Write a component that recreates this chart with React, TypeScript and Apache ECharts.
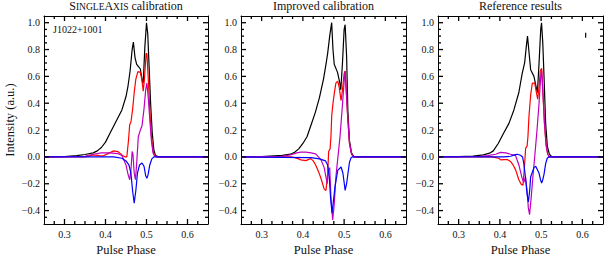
import React, { useEffect, useRef } from 'react';
import * as echarts from 'echarts';

const FONT = 'Liberation Serif';
const TXT = '#111';

// axis extents and tick values
const PHASE_RANGE = [0.25, 0.65];
const INT_RANGE = [-0.5, 1.05];
const PHASE_MAJOR_TICKS = [0.3, 0.4, 0.5, 0.6];
const PHASE_MINOR_TICKS = [0.275, 0.325, 0.35, 0.375, 0.425, 0.45, 0.475, 0.525, 0.55, 0.575, 0.625];
const INT_MAJOR_TICKS = [-0.4, -0.2, 0, 0.2, 0.4, 0.6, 0.8, 1.0];
const INT_MINOR_TICKS = [-0.45, -0.35, -0.3, -0.25, -0.15, -0.1, -0.05, 0.05, 0.1, 0.15, 0.25, 0.3, 0.35, 0.45, 0.5, 0.55, 0.65, 0.7, 0.75, 0.85, 0.9, 0.95];

const TITLES = ['{b|S}{s|INGLE}{b|A}{s|XIS}{b| calibration}', 'Improved calibration', 'Reference results'];

// Panel 1: SingleAxis calibration
const SINGLE_BLACK = [[0.25,0],[0.30,0.002],[0.33,0.01],[0.35,0.018],[0.37,0.03],[0.38,0.045],[0.39,0.07],[0.40,0.11],[0.41,0.17],[0.42,0.23],[0.43,0.29],[0.44,0.35],[0.45,0.45],[0.455,0.53],[0.46,0.64],[0.465,0.80],[0.468,0.855],[0.472,0.74],[0.476,0.69],[0.48,0.675],[0.485,0.655],[0.49,0.56],[0.492,0.55],[0.496,0.82],[0.50,1.0],[0.503,0.92],[0.506,0.70],[0.51,0.40],[0.514,0.18],[0.518,0.05],[0.522,0.01],[0.53,0],[0.65,0]];
const SINGLE_RED = [[0.25,0],[0.35,0],[0.37,0.015],[0.385,0.01],[0.395,0.008],[0.41,0.03],[0.42,0.045],[0.43,0.04],[0.44,0.015],[0.448,0.0],[0.452,0.0],[0.456,0.12],[0.459,0.24],[0.462,0.26],[0.466,0.35],[0.47,0.48],[0.474,0.58],[0.479,0.635],[0.485,0.63],[0.489,0.57],[0.492,0.49],[0.495,0.58],[0.499,0.77],[0.501,0.77],[0.504,0.6],[0.508,0.35],[0.512,0.15],[0.516,0.04],[0.52,0.01],[0.525,0],[0.65,0]];
const SINGLE_MAGENTA = [[0.25,0],[0.35,0.005],[0.37,0.02],[0.39,0.03],[0.41,0.03],[0.43,0.025],[0.44,0.01],[0.45,-0.06],[0.455,-0.13],[0.459,-0.17],[0.462,-0.1],[0.465,0.04],[0.467,0.02],[0.47,-0.12],[0.473,-0.17],[0.476,-0.05],[0.48,0.15],[0.485,0.2],[0.489,0.23],[0.494,0.36],[0.498,0.5],[0.501,0.55],[0.504,0.45],[0.508,0.28],[0.512,0.12],[0.516,0.03],[0.52,0.005],[0.525,0],[0.65,0]];
const SINGLE_BLUE = [[0.25,0],[0.42,0],[0.44,-0.01],[0.45,-0.03],[0.457,-0.06],[0.462,-0.12],[0.466,-0.25],[0.47,-0.345],[0.474,-0.25],[0.478,-0.12],[0.483,-0.06],[0.489,-0.045],[0.494,-0.07],[0.498,-0.14],[0.501,-0.16],[0.504,-0.13],[0.508,-0.06],[0.513,-0.015],[0.518,0],[0.65,0]];

// Panel 2: Improved calibration
const IMPROVED_BLACK = [[0.25,0],[0.30,0.002],[0.33,0.008],[0.35,0.012],[0.37,0.02],[0.38,0.035],[0.39,0.06],[0.40,0.1],[0.41,0.15],[0.42,0.24],[0.43,0.33],[0.44,0.44],[0.45,0.58],[0.456,0.69],[0.46,0.77],[0.465,0.9],[0.4698,1.0],[0.473,0.8],[0.476,0.69],[0.484,0.63],[0.489,0.56],[0.492,0.50],[0.496,0.7],[0.5,0.95],[0.5025,0.985],[0.506,0.75],[0.509,0.35],[0.513,0.12],[0.518,0.03],[0.523,0.005],[0.53,0],[0.65,0]];
const IMPROVED_RED = [[0.25,0],[0.37,0],[0.38,-0.005],[0.39,-0.015],[0.395,-0.022],[0.407,-0.028],[0.419,-0.013],[0.425,-0.03],[0.431,-0.06],[0.438,-0.11],[0.4436,-0.157],[0.4517,-0.24],[0.456,-0.25],[0.46,-0.13],[0.4625,0.04],[0.466,0.06],[0.468,0.15],[0.47,0.31],[0.473,0.4],[0.476,0.47],[0.48,0.55],[0.4845,0.565],[0.488,0.52],[0.4926,0.42],[0.496,0.5],[0.5,0.62],[0.5025,0.64],[0.505,0.5],[0.509,0.28],[0.513,0.1],[0.518,0.02],[0.523,0],[0.65,0]];
const IMPROVED_MAGENTA = [[0.25,0],[0.35,0.005],[0.37,0.015],[0.385,0.03],[0.395,0.035],[0.407,0.035],[0.42,0.03],[0.431,0.022],[0.4436,-0.02],[0.4517,-0.08],[0.456,-0.15],[0.459,-0.2],[0.462,-0.1],[0.465,-0.08],[0.468,-0.3],[0.4723,-0.47],[0.476,-0.35],[0.48,-0.15],[0.485,0.0],[0.49,0.15],[0.495,0.35],[0.5,0.56],[0.5025,0.64],[0.505,0.5],[0.509,0.28],[0.513,0.1],[0.518,0.02],[0.523,0],[0.65,0]];
const IMPROVED_BLUE = [[0.25,0],[0.42,-0.005],[0.44,-0.015],[0.455,-0.03],[0.46,-0.06],[0.464,-0.15],[0.467,-0.3],[0.4706,-0.42],[0.474,-0.33],[0.478,-0.22],[0.4845,-0.1],[0.4926,-0.075],[0.497,-0.12],[0.5,-0.19],[0.5025,-0.25],[0.506,-0.2],[0.509,-0.13],[0.513,-0.04],[0.517,-0.005],[0.52,0],[0.65,0]];

// Panel 3: Reference results
const REFERENCE_BLACK = [[0.25,0],[0.30,0.002],[0.335,0.006],[0.36,0.015],[0.375,0.028],[0.384,0.045],[0.396,0.1],[0.408,0.17],[0.422,0.25],[0.434,0.35],[0.446,0.48],[0.454,0.62],[0.46,0.7],[0.464,0.82],[0.467,0.9],[0.47,0.8],[0.4746,0.65],[0.4826,0.6],[0.488,0.52],[0.491,0.48],[0.495,0.7],[0.499,0.95],[0.501,1.0],[0.504,0.85],[0.507,0.6],[0.511,0.25],[0.515,0.08],[0.52,0.02],[0.525,0.003],[0.53,0],[0.65,0]];
const REFERENCE_RED = [[0.25,0],[0.38,0],[0.39,-0.005],[0.3975,-0.01],[0.402,-0.022],[0.41,-0.02],[0.418,-0.02],[0.426,-0.035],[0.432,-0.06],[0.438,-0.095],[0.446,-0.17],[0.452,-0.205],[0.456,-0.21],[0.459,-0.1],[0.4625,0.065],[0.466,0.08],[0.468,0.15],[0.4705,0.3],[0.4746,0.46],[0.4787,0.55],[0.4845,0.55],[0.4885,0.48],[0.4916,0.43],[0.495,0.52],[0.498,0.64],[0.5013,0.66],[0.504,0.5],[0.508,0.25],[0.512,0.09],[0.516,0.02],[0.52,0],[0.65,0]];
const REFERENCE_MAGENTA = [[0.25,0],[0.35,0.003],[0.37,0.01],[0.39,0.02],[0.4015,0.034],[0.415,0.03],[0.426,0.02],[0.438,0.01],[0.446,-0.06],[0.454,-0.16],[0.458,-0.19],[0.462,-0.15],[0.466,-0.25],[0.469,-0.38],[0.472,-0.43],[0.476,-0.3],[0.48,-0.15],[0.485,0.02],[0.49,0.2],[0.495,0.4],[0.499,0.6],[0.5013,0.64],[0.504,0.5],[0.508,0.26],[0.512,0.09],[0.516,0.02],[0.52,0],[0.65,0]];
const REFERENCE_BLUE = [[0.25,0],[0.41,0],[0.426,0.005],[0.435,0.015],[0.442,0.02],[0.45,0.012],[0.455,0],[0.458,-0.05],[0.462,-0.15],[0.466,-0.28],[0.469,-0.335],[0.472,-0.26],[0.4746,-0.15],[0.4826,-0.08],[0.4868,-0.07],[0.4948,-0.12],[0.4985,-0.17],[0.5013,-0.195],[0.504,-0.17],[0.507,-0.13],[0.511,-0.05],[0.515,-0.008],[0.52,0],[0.65,0]];
const REFERENCE_ERRBAR = [[0.608,0.888],[0.608,0.925]];

const PANELS = [
  [SINGLE_BLACK, SINGLE_RED, SINGLE_MAGENTA, SINGLE_BLUE],
  [IMPROVED_BLACK, IMPROVED_RED, IMPROVED_MAGENTA, IMPROVED_BLUE],
  [REFERENCE_BLACK, REFERENCE_RED, REFERENCE_MAGENTA, REFERENCE_BLUE],
];
const COLORS = ['#000000', '#ff0000', '#bf00bf', '#0000ff'];

const GRIDS = [
  { left: 44, top: 16, width: 164, height: 208 },
  { left: 241, top: 16, width: 165, height: 208 },
  { left: 438, top: 16, width: 165, height: 208 },
];

const fmt = (v: number) => (v < 0 ? '\u2212' + Math.abs(v).toFixed(1) : v.toFixed(1));
const line = { color: '#000', width: 1 };

// tick records: [value, kind (0 = phase axis, 1 = intensity axis), major flag]
const TICK_DATA = [
  ...PHASE_MAJOR_TICKS.map((v) => [v, 0, 1]),
  ...PHASE_MINOR_TICKS.map((v) => [v, 0, 0]),
  ...INT_MAJOR_TICKS.map((v) => [v, 1, 1]),
  ...INT_MINOR_TICKS.map((v) => [v, 1, 0]),
];

function renderTick(params: any, api: any) {
  const v = api.value(0);
  const kind = api.value(1);
  const len = api.value(2) ? 5 : 3;
  const style = { stroke: '#000', lineWidth: 1.3, fill: null };
  if (kind === 0) {
    const b = api.coord([v, INT_RANGE[0]]);
    const t = api.coord([v, INT_RANGE[1]]);
    const x = b[0];
    return {
      type: 'group',
      children: [
        { type: 'line', shape: { x1: x, y1: b[1], x2: x, y2: b[1] - len }, style },
        { type: 'line', shape: { x1: x, y1: t[1], x2: x, y2: t[1] + len }, style },
      ],
    };
  }
  const l = api.coord([PHASE_RANGE[0], v]);
  const r = api.coord([PHASE_RANGE[1], v]);
  const y = l[1];
  return {
    type: 'group',
    children: [
      { type: 'line', shape: { x1: l[0], y1: y, x2: l[0] + len, y2: y }, style },
      { type: 'line', shape: { x1: r[0], y1: y, x2: r[0] - len, y2: y }, style },
    ],
  };
}

function xAxes(g: number) {
  const base: any = { type: 'value', gridIndex: g, min: PHASE_RANGE[0], max: PHASE_RANGE[1], splitLine: { show: false }, minInterval: 0.1, maxInterval: 0.1 };
  return [
    {
      ...base, position: 'bottom',
      axisLine: { show: true, onZero: false, lineStyle: line },
      axisTick: { show: false },
      axisLabel: { show: true, showMinLabel: false, showMaxLabel: false, formatter: fmt, fontFamily: FONT, fontSize: 10, color: TXT, margin: 5 },
      name: 'Pulse Phase', nameLocation: 'middle', nameGap: 15,
      nameTextStyle: { fontFamily: FONT, fontSize: 12.5, color: TXT },
    },
    {
      ...base, position: 'top',
      axisLine: { show: true, onZero: false, lineStyle: line },
      axisTick: { show: false },
      axisLabel: { show: false },
      name: TITLES[g], nameLocation: 'middle', nameGap: 4,
      nameTextStyle: {
        fontFamily: FONT, fontSize: 12, color: TXT,
        rich: {
          b: { fontFamily: FONT, fontSize: 12, color: TXT, verticalAlign: 'bottom' },
          s: { fontFamily: FONT, fontSize: 9.5, color: TXT, verticalAlign: 'bottom' },
        },
      },
    },
  ];
}

function yAxes(g: number) {
  const base: any = { type: 'value', gridIndex: g, min: INT_RANGE[0], max: INT_RANGE[1], splitLine: { show: false }, minInterval: 0.2, maxInterval: 0.2 };
  return [
    {
      ...base, position: 'left',
      axisLine: { show: true, onZero: false, lineStyle: line },
      axisTick: { show: false },
      axisLabel: { show: true, showMinLabel: false, showMaxLabel: false, formatter: fmt, fontFamily: FONT, fontSize: 10, color: TXT, margin: 4 },
      name: g === 0 ? 'Intensity (a.u.)' : '', nameLocation: 'middle', nameGap: 28,
      nameTextStyle: { fontFamily: FONT, fontSize: 12.5, color: TXT },
    },
    {
      ...base, position: 'right',
      axisLine: { show: true, onZero: false, lineStyle: line },
      axisTick: { show: false },
      axisLabel: { show: false },
    },
  ];
}

export default function App() {
  const ref = useRef<HTMLDivElement>(null);
  useEffect(() => {
    if (!ref.current) return;
    const chart = echarts.init(ref.current, null, { renderer: 'svg' });
    const series: any[] = [];
    PANELS.forEach((panel, g) => {
      panel.forEach((data, k) => {
        series.push({
          type: 'line', xAxisIndex: g * 2, yAxisIndex: g * 2, data,
          showSymbol: false, symbol: 'none', clip: true,
          lineStyle: { color: COLORS[k], width: 1.2 }, itemStyle: { color: COLORS[k] },
          z: 2 + k, silent: true,
        });
      });
      series.push({
        type: 'custom', xAxisIndex: g * 2, yAxisIndex: g * 2, data: TICK_DATA,
        renderItem: renderTick, clip: false, silent: true, z: 10,
      });
    });
    series.push({
      type: 'line', xAxisIndex: 4, yAxisIndex: 4, data: REFERENCE_ERRBAR,
      showSymbol: false, symbol: 'none', lineStyle: { color: '#000', width: 1.2 }, silent: true,
    });
    chart.setOption({
      animation: false,
      grid: GRIDS.map((g) => ({ ...g, containLabel: false, outerBoundsMode: 'none' })),
      xAxis: [0, 1, 2].flatMap((g) => xAxes(g)),
      yAxis: [0, 1, 2].flatMap((g) => yAxes(g)),
      series,
      graphic: [
        {
          type: 'text', x: 53, y: 29,
          style: { text: 'J1022+1001', fontFamily: FONT, fontSize: 10, fill: TXT, align: 'left', verticalAlign: 'middle' },
        },
      ],
    });
    return () => chart.dispose();
  }, []);
  return <div ref={ref} style={{ position: 'fixed', left: 0, top: 0, width: 610, height: 256, background: '#fff' }} />;
}
